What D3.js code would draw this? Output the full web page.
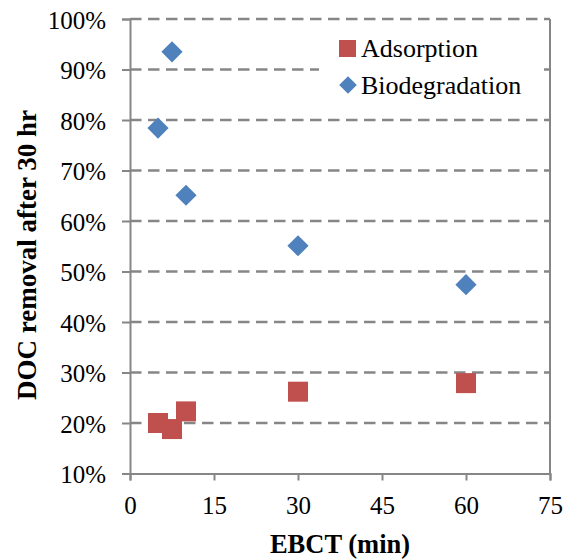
<!DOCTYPE html>
<html><head><meta charset="utf-8">
<script src="https://cdn.jsdelivr.net/npm/d3@7"></script>
<style>body{margin:0;background:#fff}svg{display:block}
svg text{font-family:"Liberation Serif","Times New Roman",Times,serif}</style>
</head><body>
<svg id="c" width="565" height="559"></svg>
<script>
const ebct = [5, 7.5, 10, 30, 60];
const adsorption = [0.200, 0.188, 0.223, 0.262, 0.279];
const biodegradation = [0.784, 0.935, 0.651, 0.551, 0.474];
const xTicks = [0, 15, 30, 45, 60, 75];
const yTicks = [0.1, 0.2, 0.3, 0.4, 0.5, 0.6, 0.7, 0.8, 0.9, 1.0];
const seriesNames = ["Adsorption", "Biodegradation"];

const svg = d3.select("#c");
const font = "Liberation Serif";
const grey = "#868686";
const L = 130, R = 550, T = 19, B = 473.5;
const x = d3.scaleLinear().domain([0, 75]).range([L, R]);
const y = d3.scaleLinear().domain([0.1, 1.0]).range([B, T]);

// gridlines
svg.append("g").selectAll("line").data(yTicks.filter(d => d > 0.1)).join("line")
  .attr("x1", L).attr("x2", R).attr("y1", d => y(d)).attr("y2", d => y(d))
  .attr("stroke", grey).attr("stroke-width", 2.5).attr("stroke-dasharray", "11.5,6.5");

// right border
svg.append("line").attr("x1", R).attr("x2", R).attr("y1", T).attr("y2", B)
  .attr("stroke", grey).attr("stroke-width", 2);

// axes
const yAxis = d3.axisLeft(y).tickValues(yTicks).tickFormat(d3.format(".0%")).tickSize(8).tickPadding(16);
const gy = svg.append("g").attr("transform", `translate(${L},0)`).call(yAxis);
const xAxis = d3.axisBottom(x).tickValues(xTicks).tickSize(7).tickPadding(14);
const gx = svg.append("g").attr("transform", `translate(0,${B})`).call(xAxis);
[gx, gy].forEach(g => {
  g.attr("font-family", font).attr("font-size", 25);
  g.select(".domain").attr("stroke", grey).attr("stroke-width", 2);
  g.selectAll(".tick line").attr("stroke", grey).attr("stroke-width", 2);
  g.selectAll("text").attr("fill", "#000");
});
gy.selectAll("text").attr("dy", "0.36em");
gx.selectAll("text").attr("dy", "0.76em");

// marks
const sq = 20;
svg.append("g").selectAll("rect").data(ebct).join("rect")
  .attr("x", (d) => x(d) - sq / 2).attr("y", (d, i) => y(adsorption[i]) - sq / 2)
  .attr("width", sq).attr("height", sq).attr("fill", "#C0504D");
const dsym = d3.symbol().type(d3.symbolSquare).size(15 * 15);
svg.append("g").selectAll("path").data(ebct).join("path")
  .attr("d", dsym)
  .attr("transform", (d, i) => `translate(${x(d)},${y(biodegradation[i])}) rotate(45)`)
  .attr("fill", "#4F81BD");

// legend
const lg = svg.append("g");
lg.append("rect").attr("x", 319).attr("y", 26).attr("width", 222).attr("height", 80).attr("fill", "#fff");
lg.append("rect").attr("x", 339).attr("y", 40).attr("width", 17).attr("height", 17).attr("fill", "#C0504D");
lg.append("path").attr("d", d3.symbol().type(d3.symbolSquare).size(12.5 * 12.5))
  .attr("transform", "translate(348,85) rotate(45)").attr("fill", "#4F81BD");
lg.selectAll("text").data(seriesNames).join("text")
  .attr("x", 361).attr("y", (d, i) => 57 + i * 37)
  .attr("font-family", font).attr("font-size", 26).text(d => d);

// axis titles
svg.append("text").attr("x", (L + R) / 2).attr("y", 553).attr("text-anchor", "middle")
  .attr("font-family", font).attr("font-size", 26.5).attr("font-weight", "bold").text("EBCT (min)");
svg.append("text").attr("transform", "translate(36,255) rotate(-90)").attr("text-anchor", "middle")
  .attr("font-family", font).attr("font-size", 27).attr("font-weight", "bold").text("DOC removal after 30 hr");
</script>
</body></html>
